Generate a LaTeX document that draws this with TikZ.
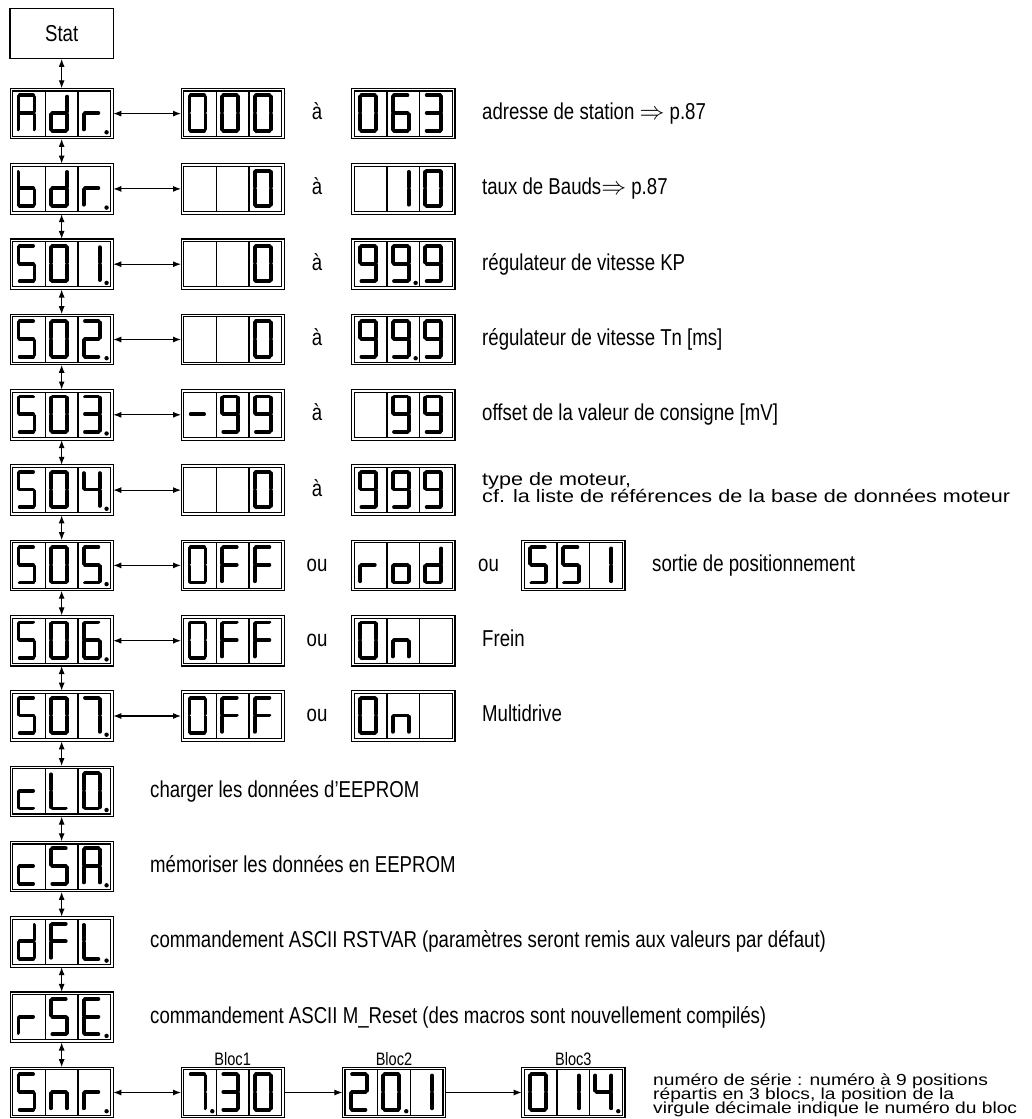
\documentclass[tikz,border=0pt]{standalone}
\usepackage{fontspec}
\setmainfont{Liberation Sans}[FakeStretch=0.81]
\newfontfamily\widefont{Liberation Sans}[FakeStretch=1.2]
\usetikzlibrary{arrows.meta}
\newcommand\tightlines{\lineskiplimit=-50pt\relax}
% seven-segment elements (local cell coordinates, px, y down)
\newcommand\segA{\draw[seg] (7.0,7) -- (20.4,7);}
\newcommand\segB{\draw[seg] (21.7,8.3) -- (21.7,23.4);}
\newcommand\segC{\draw[seg] (21.7,26.0) -- (21.7,41.1);}
\newcommand\segD{\draw[seg] (7.0,42.4) -- (20.4,42.4);}
\newcommand\segE{\draw[seg] (5.7,26.0) -- (5.7,41.1);}
\newcommand\segF{\draw[seg] (5.7,8.3) -- (5.7,23.4);}
\newcommand\segG{\draw[seg] (7.0,24.7) -- (20.4,24.7);}
\newcommand\dpt{\fill (28.6,44) circle[radius=2.2pt];}
% glyphs
\newcommand\dgA{\segA\segB\segC\segE\segF\segG}
\newcommand\dgd{\segB\segC\segD\segE\segG}
\newcommand\dgr{\segE\segG}
\newcommand\dgb{\segC\segD\segE\segF\segG}
\newcommand\dgS{\segA\segF\segG\segC\segD}
\newcommand\dgO{\segA\segB\segC\segD\segE\segF}
\newcommand\dgI{\segB\segC}
\newcommand\dgII{\segA\segB\segG\segE\segD}
\newcommand\dgIII{\segA\segB\segG\segC\segD}
\newcommand\dgIV{\segF\segG\segB\segC}
\newcommand\dgVI{\segA\segF\segG\segE\segD\segC}
\newcommand\dgVII{\segA\segB\segC}
\newcommand\dgIX{\segA\segB\segC\segD\segF\segG}
\newcommand\dgminus{\segG}
\newcommand\dgF{\segA\segF\segG\segE}
\newcommand\dgo{\segG\segC\segD\segE}
\newcommand\dgn{\segG\segC\segE}
\newcommand\dgc{\segG\segE\segD}
\newcommand\dgL{\segF\segE\segD}
\newcommand\dgE{\segA\segF\segG\segE\segD}
\newcommand\dgblank{}
% display: name, cx, cy, cell1, cell2, cell3
\newcommand\sevdisp[6]{%
  \node[dispbox] (#1) at (#2,#3) {};
  \begin{scope}[shift={(#2-51.65,#3-25.3)}]
    \draw[divider] (35.33,2.7) -- (35.33,47.9);
    \draw[divider] (67.97,2.7) -- (67.97,47.9);
    \begin{scope}[shift={(2.7,0)}]#4\end{scope}
    \begin{scope}[shift={(35.33,0)}]#5\end{scope}
    \begin{scope}[shift={(67.97,0)}]#6\end{scope}
  \end{scope}}
\begin{document}
\begin{tikzpicture}[x=1pt,y=-1pt,
  seg/.style={line width=3.8pt,line cap=round},
  divider/.style={line width=1.1pt},
  dispbox/.style={draw,double,double distance=1.5pt,line width=1.1pt,
    minimum width=100.6pt,minimum height=47.9pt,inner sep=0pt,outer sep=1.35pt},
  statbox/.style={draw,line width=1.2pt,minimum width=103.3pt,minimum height=50pt,
    inner sep=0pt,font=\fontsize{23}{27}\selectfont},
  conn/.style={line width=1.1pt,{Latex[length=8pt,width=6pt]}-{Latex[length=8pt,width=6pt]}},
  conn1/.style={line width=1.1pt,-{Latex[length=8pt,width=6pt]}},
  desc/.style={anchor=base west,inner sep=0pt,font=\fontsize{23}{27}\selectfont},
  conj/.style={anchor=base,inner sep=0pt,font=\fontsize{23}{27}\selectfont},
  multi/.style={anchor=north west,align=left,inner sep=0pt},
  bloclbl/.style={anchor=base,inner sep=0pt,font=\fontsize{18}{20}\selectfont}]
\useasboundingbox (0,0) rectangle (1031,1119);
\fill[white] (0,0) rectangle (1031,1119);

\node[statbox] (stat) at (61.65,33.3) {Stat};

% row 0
\sevdisp{adr}{61.65}{113.6}{\dgA}{\dgd}{\dgr\dpt}
\sevdisp{adrmin}{232.65}{113.6}{\dgO}{\dgO}{\dgO}
\node[conj] (adrto) at (317,119.5) {à};
\sevdisp{adrmax}{403.35}{113.6}{\dgO}{\dgVI}{\dgIII}
\node[desc] (adrtxt) at (482,119.5) {adresse de station $\Rightarrow$ p.87};
% row 1
\sevdisp{bdr}{61.65}{188.9}{\dgb}{\dgd}{\dgr\dpt}
\sevdisp{bdrmin}{232.65}{188.9}{\dgblank}{\dgblank}{\dgO}
\node[conj] (bdrto) at (317,194.8) {à};
\sevdisp{bdrmax}{403.35}{188.9}{\dgblank}{\dgI}{\dgO}
\node[desc] (bdrtxt) at (482,194.8) {taux de Bauds$\Rightarrow$ p.87};
% row 2
\sevdisp{sa}{61.65}{264.2}{\dgS}{\dgO}{\dgI\dpt}
\sevdisp{samin}{232.65}{264.2}{\dgblank}{\dgblank}{\dgO}
\node[conj] (sato) at (317,270.1) {à};
\sevdisp{samax}{403.35}{264.2}{\dgIX}{\dgIX\dpt}{\dgIX}
\node[desc] (satxt) at (482,270.1) {régulateur de vitesse KP};
% row 3
\sevdisp{sb}{61.65}{339.5}{\dgS}{\dgO}{\dgII\dpt}
\sevdisp{sbmin}{232.65}{339.5}{\dgblank}{\dgblank}{\dgO}
\node[conj] (sbto) at (317,345.4) {à};
\sevdisp{sbmax}{403.35}{339.5}{\dgIX}{\dgIX\dpt}{\dgIX}
\node[desc] (sbtxt) at (482,345.4) {régulateur de vitesse Tn [ms]};
% row 4
\sevdisp{sc}{61.65}{414.8}{\dgS}{\dgO}{\dgIII\dpt}
\sevdisp{scmin}{232.65}{414.8}{\dgminus}{\dgIX}{\dgIX}
\node[conj] (scto) at (317,420.7) {à};
\sevdisp{scmax}{403.35}{414.8}{\dgblank}{\dgIX}{\dgIX}
\node[desc] (sctxt) at (482,420.7) {offset de la valeur de consigne [mV]};
% row 5
\sevdisp{sd}{61.65}{490.1}{\dgS}{\dgO}{\dgIV\dpt}
\sevdisp{sdmin}{232.65}{490.1}{\dgblank}{\dgblank}{\dgO}
\node[conj] (sdto) at (317,496.0) {à};
\sevdisp{sdmax}{403.35}{490.1}{\dgIX}{\dgIX}{\dgIX}
\node[multi,font=\widefont\fontsize{18}{17}\selectfont\tightlines] (sdtxt) at (482,471.8) {type de moteur,\\cf. la liste de références de la base de données moteur};
% row 6
\sevdisp{se}{61.65}{565.4}{\dgS}{\dgO}{\dgS\dpt}
\sevdisp{seoff}{232.65}{565.4}{\dgO}{\dgF}{\dgF}
\node[conj] (seou) at (317,571.3) {ou};
\sevdisp{serod}{403.35}{565.4}{\dgr}{\dgo}{\dgd}
\node[conj] (seoub) at (488.5,571.3) {ou};
\sevdisp{sessi}{573.35}{565.4}{\dgS}{\dgS}{\dgI}
\node[desc] (setxt) at (652,571.3) {sortie de positionnement};
% row 7
\sevdisp{sf}{61.65}{640.7}{\dgS}{\dgO}{\dgVI\dpt}
\sevdisp{sfoff}{232.65}{640.7}{\dgO}{\dgF}{\dgF}
\node[conj] (sfou) at (317,646.6) {ou};
\sevdisp{sfon}{403.35}{640.7}{\dgO}{\dgn}{\dgblank}
\node[desc] (sftxt) at (482,646.6) {Frein};
% row 8
\sevdisp{sg}{61.65}{716.0}{\dgS}{\dgO}{\dgVII\dpt}
\sevdisp{sgoff}{232.65}{716.0}{\dgO}{\dgF}{\dgF}
\node[conj] (sgou) at (317,721.9) {ou};
\sevdisp{sgon}{403.35}{716.0}{\dgO}{\dgn}{\dgblank}
\node[desc] (sgtxt) at (482,721.9) {Multidrive};
% rows 9-12
\sevdisp{clo}{61.65}{791.3}{\dgc}{\dgL}{\dgO\dpt}
\node[desc] (clotxt) at (150,797.2) {charger les données d’EEPROM};
\sevdisp{csa}{61.65}{866.6}{\dgc}{\dgS}{\dgA\dpt}
\node[desc] (csatxt) at (150,872.5) {mémoriser les données en EEPROM};
\sevdisp{dfl}{61.65}{941.9}{\dgd}{\dgF}{\dgL\dpt}
\node[desc] (dfltxt) at (150,947.8) {commandement ASCII RSTVAR (paramètres seront remis aux valeurs par défaut)};
\sevdisp{rse}{61.65}{1017.2}{\dgr}{\dgS}{\dgE\dpt}
\node[desc] (rsetxt) at (150,1023.1) {commandement ASCII M\_Reset (des macros sont nouvellement compilés)};
% row 13
\sevdisp{snr}{61.65}{1092.5}{\dgS}{\dgn}{\dgr\dpt}
\sevdisp{bloca}{232.65}{1092.5}{\dgVII\dpt}{\dgIII}{\dgO}
\sevdisp{blocb}{394}{1092.5}{\dgII}{\dgO\dpt}{\dgI}
\sevdisp{blocc}{573.35}{1092.5}{\dgO}{\dgI}{\dgIV\dpt}
\node[bloclbl] (blalbl) at (232.65,1065.5) {Bloc1};
\node[bloclbl] (blblbl) at (394,1065.5) {Bloc2};
\node[bloclbl] (blclbl) at (573.35,1065.5) {Bloc3};
\node[multi,font=\widefont\fontsize{16}{14}\selectfont\tightlines] (snrtxt) at (653,1073.5) {numéro de série : numéro à 9 positions\\répartis en 3 blocs, la position de la\\virgule décimale indique le numéro du bloc};

% vertical connectors
\draw[conn] (stat.south) -- (adr.north);
\draw[conn] (adr.south) -- (bdr.north);
\draw[conn] (bdr.south) -- (sa.north);
\draw[conn] (sa.south) -- (sb.north);
\draw[conn] (sb.south) -- (sc.north);
\draw[conn] (sc.south) -- (sd.north);
\draw[conn] (sd.south) -- (se.north);
\draw[conn] (se.south) -- (sf.north);
\draw[conn] (sf.south) -- (sg.north);
\draw[conn] (sg.south) -- (clo.north);
\draw[conn] (clo.south) -- (csa.north);
\draw[conn] (csa.south) -- (dfl.north);
\draw[conn] (dfl.south) -- (rse.north);
\draw[conn] (rse.south) -- (snr.north);
% horizontal connectors
\draw[conn] (adr.east) -- (adrmin.west);
\draw[conn] (bdr.east) -- (bdrmin.west);
\draw[conn] (sa.east) -- (samin.west);
\draw[conn] (sb.east) -- (sbmin.west);
\draw[conn] (sc.east) -- (scmin.west);
\draw[conn] (sd.east) -- (sdmin.west);
\draw[conn] (se.east) -- (seoff.west);
\draw[conn] (sf.east) -- (sfoff.west);
\draw[conn] (sg.east) -- (sgoff.west);
\draw[conn] (snr.east) -- (bloca.west);
\draw[conn1] (bloca.east) -- (blocb.west);
\draw[conn1] (blocb.east) -- (blocc.west);
\end{tikzpicture}
\end{document}
